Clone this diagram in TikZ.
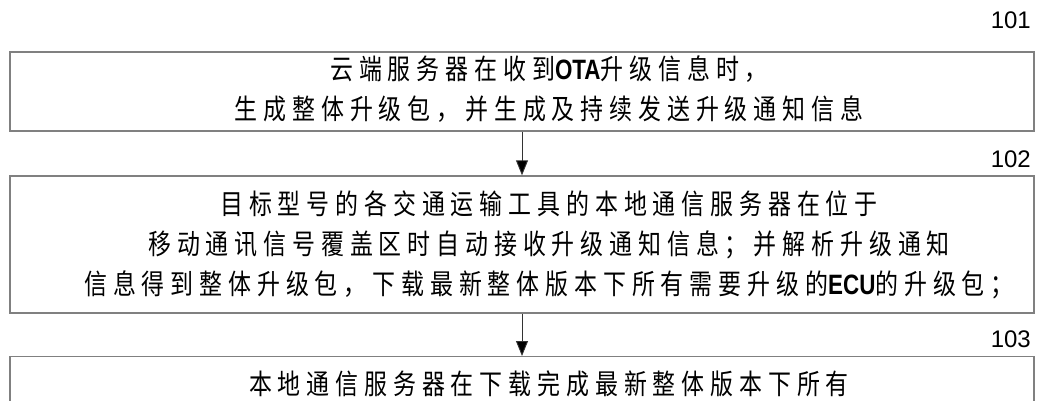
\documentclass[tikz,border=0pt]{standalone}
\usepackage{fontspec}
\setmainfont{Liberation Sans}
\newfontfamily\cjk[FakeStretch=0.82,LetterSpace=21]{Noto Sans CJK SC}
\newfontfamily\lat[FakeStretch=0.8]{Liberation Sans}
\usepackage{tikz}
\usetikzlibrary{positioning,arrows.meta}

\begin{document}
\begin{tikzpicture}[x=1pt,y=-1pt,
  stepbox/.style={draw=gray, line width=1.4pt, minimum width=1024pt, inner sep=0pt},
  steptext/.style={align=center, inner sep=0pt, xshift=27pt, font=\cjk\fontsize{28}{40}\selectfont},
  steplabel/.style={anchor=base east, inner sep=0pt, font=\fontsize{24}{24}\selectfont},
  flow/.style={draw=black!80, line width=0.9pt, -{Triangle[length=15pt,width=12pt,fill=black]}}]
\useasboundingbox (0,0) rectangle (1047,400);
\clip (0,0) rectangle (1047,400);
% steps
\node[stepbox, minimum height=79pt] (s101) at (522,91.5) {};
\node[steptext] (t101) at ([yshift=2pt]s101) {云端服务器在收到{\lat\bfseries OTA}升级信息时，\\生成整体升级包，并生成及持续发送升级通知信息};
\node[stepbox, minimum height=137pt] (s102) at (522,244.5) {};
\node[steptext] (t102) at (s102) {目标型号的各交通运输工具的本地通信服务器在位于\\移动通讯信号覆盖区时自动接收升级通知信息；并解析升级通知\\信息得到整体升级包，下载最新整体版本下所有需要升级的{\lat\bfseries ECU}的升级包；};
\node[stepbox, anchor=north, minimum height=120pt] (s103) at (522,356) {};
\node[steptext, anchor=base] (t103) at (522,394) {本地通信服务器在下载完成最新整体版本下所有};
% labels
\node[steplabel] (l101) at (1031,28) {101};
\node[steplabel] (l102) at (1031,167) {102};
\node[steplabel] (l103) at (1031,347) {103};
\draw[flow] (s101) -- (s102);
\draw[flow] (s102) -- (s103);
\end{tikzpicture}
\end{document}
